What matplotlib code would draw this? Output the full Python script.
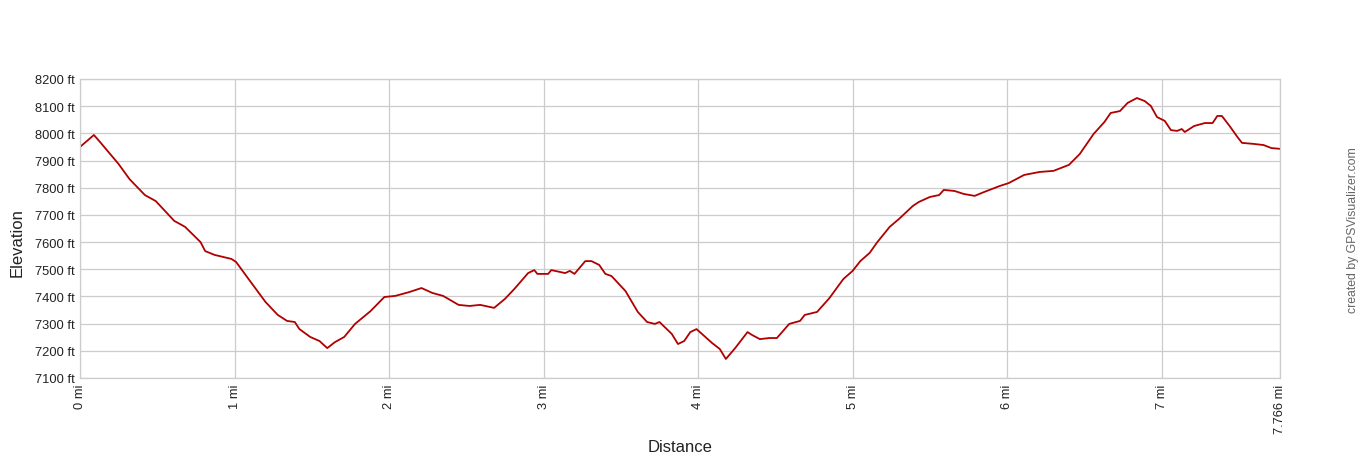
import matplotlib
matplotlib.use("Agg")
import matplotlib.pyplot as plt
import matplotlib.ticker as ticker

plt.rcParams['font.family'] = ['Liberation Sans', 'DejaVu Sans']

# 距離 (mi) と標高 (ft)
distance_mi = [
    0.00, 0.09, 0.13, 0.25, 0.32, 0.42, 0.49, 0.61, 0.68, 0.78, 0.81, 0.87, 0.98, 1.01,
    1.10, 1.20, 1.28, 1.34, 1.39, 1.42, 1.49, 1.55, 1.60, 1.65, 1.71, 1.78, 1.88, 1.97,
    2.04, 2.13, 2.21, 2.28, 2.35, 2.45, 2.52, 2.59, 2.68, 2.75, 2.81, 2.90, 2.94, 2.96,
    3.03, 3.05, 3.14, 3.17, 3.20, 3.27, 3.31, 3.36, 3.40, 3.44, 3.53, 3.61, 3.67, 3.72,
    3.75, 3.83, 3.87, 3.91, 3.95, 3.99, 4.09, 4.14, 4.18, 4.24, 4.32, 4.35, 4.40, 4.46,
    4.51, 4.59, 4.66, 4.69, 4.77, 4.85, 4.94, 5.00, 5.05, 5.11, 5.16, 5.24, 5.30, 5.39,
    5.43, 5.50, 5.56, 5.59, 5.66, 5.72, 5.79, 5.85, 5.95, 6.01, 6.11, 6.21, 6.30, 6.40,
    6.47, 6.56, 6.63, 6.67, 6.73, 6.78, 6.84, 6.89, 6.93, 6.97, 7.02, 7.06, 7.10, 7.13,
    7.15, 7.21, 7.28, 7.33, 7.36, 7.39, 7.44, 7.49, 7.52, 7.60, 7.66, 7.71, 7.766,
]
elevation_ft = [
    7950, 7994, 7968, 7887, 7832, 7773, 7751, 7678, 7656, 7600, 7567, 7553, 7538, 7527,
    7457, 7380, 7332, 7310, 7306, 7280, 7251, 7236, 7210, 7232, 7251, 7299, 7346, 7398,
    7402, 7416, 7431, 7413, 7402, 7369, 7365, 7369, 7358, 7391, 7427, 7486, 7497, 7483,
    7483, 7497, 7486, 7494, 7483, 7530, 7530, 7516, 7483, 7475, 7420, 7343, 7306, 7299,
    7306, 7262, 7225, 7236, 7269, 7280, 7229, 7207, 7170, 7210, 7269, 7258, 7243, 7247,
    7247, 7299, 7310, 7332, 7343, 7394, 7464, 7494, 7530, 7560, 7600, 7656, 7685, 7733,
    7748, 7766, 7773, 7792, 7788, 7777, 7770, 7784, 7806, 7817, 7847, 7858, 7862, 7884,
    7924, 7998, 8042, 8075, 8082, 8112, 8130, 8119, 8101, 8060, 8046, 8012, 8009, 8016,
    8005, 8027, 8038, 8038, 8064, 8064, 8027, 7987, 7965, 7961, 7957, 7946, 7943,
]

x_ticks = [0, 1, 2, 3, 4, 5, 6, 7, 7.766]
x_tick_labels = ['0 mi', '1 mi', '2 mi', '3 mi', '4 mi', '5 mi', '6 mi', '7 mi', '7.766 mi']

grid_color = '#cccccc'
text_color = '#222222'

fig = plt.figure(figsize=(13.6, 4.6), dpi=100)
ax = fig.add_axes([80 / 1360, 1 - 379 / 460, 1200 / 1360, 299 / 460])

ax.plot(distance_mi, elevation_ft, color='#b00000', linewidth=1.3)

# Y軸
ax.set_ylim(7100, 8200)
ax.yaxis.set_major_locator(ticker.MultipleLocator(100))
ax.yaxis.set_major_formatter(ticker.FuncFormatter(lambda v, p: f'{int(v)} ft'))

# X軸
ax.set_xlim(0, 7.766)
ax.set_xticks(x_ticks)
ax.set_xticklabels(x_tick_labels, rotation=90)

ax.tick_params(length=0, labelsize=9.3, labelcolor=text_color, pad=4)
ax.grid(True, color=grid_color, linewidth=0.9)
ax.set_axisbelow(True)
for s in ax.spines.values():
    s.set_color(grid_color)
    s.set_linewidth(0.9)

fig.text(17 / 1360, 1 - 243 / 460, 'Elevation', rotation=90, ha='center', va='center',
         fontsize=12, color=text_color)
fig.text(680 / 1360, 1 - 448 / 460, 'Distance', ha='center', va='center',
         fontsize=12, color=text_color)
fig.text(1353 / 1360, 1 - 230 / 460, 'created by GPSVisualizer.com', rotation=90,
         ha='center', va='center', fontsize=8.8, color='#666666')

fig.savefig('out.png', dpi=100)
